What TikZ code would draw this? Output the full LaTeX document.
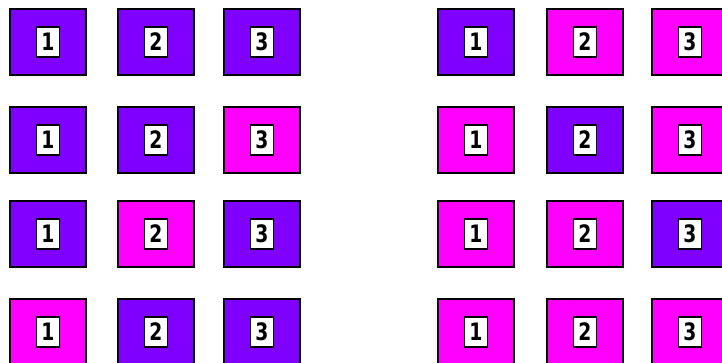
\documentclass[tikz,border=0pt]{standalone}
\usepackage{fontspec}
\setsansfont{DejaVu Sans}
\usetikzlibrary{positioning}
\definecolor{boxviolet}{RGB}{127,0,255}
\definecolor{boxpink}{RGB}{255,0,255}

\begin{document}
\begin{tikzpicture}[x=1pt, y=-1pt,
    tile/.style={draw=black, line width=1.3pt, minimum width=76pt, minimum height=66pt, inner sep=0pt},
    tag/.style={draw=black, fill=white, line width=1.3pt, minimum width=23pt, minimum height=30pt, inner sep=0pt,
      font=\sffamily\bfseries\fontsize{24}{24}\selectfont}]
  \useasboundingbox (0,0) rectangle (722,362);
  \clip (0,0) rectangle (722,362);

  % left grid
  \foreach \r/\y/\ca/\cb/\cc in {1/42/boxviolet/boxviolet/boxviolet,
                                  2/140/boxviolet/boxviolet/boxpink,
                                  3/234/boxviolet/boxpink/boxviolet,
                                  4/332/boxpink/boxviolet/boxviolet}
    \foreach \c/\x/\col in {1/48/\ca, 2/156/\cb, 3/262/\cc} {
      \node[tile, fill=\col] (L-\r-\c) at (\x,\y) {};
      \node[tag] (L-\r-\c-n) at (L-\r-\c) {\scalebox{0.78}[1]{\c}};
    }

  % right grid
  \foreach \r/\y/\ca/\cb/\cc in {1/42/boxviolet/boxpink/boxpink,
                                  2/140/boxpink/boxviolet/boxpink,
                                  3/234/boxpink/boxpink/boxviolet,
                                  4/332/boxpink/boxpink/boxpink}
    \foreach \c/\x/\col in {1/476/\ca, 2/585/\cb, 3/690/\cc} {
      \node[tile, fill=\col] (R-\r-\c) at (\x,\y) {};
      \node[tag] (R-\r-\c-n) at (R-\r-\c) {\scalebox{0.78}[1]{\c}};
    }
\end{tikzpicture}
\end{document}
